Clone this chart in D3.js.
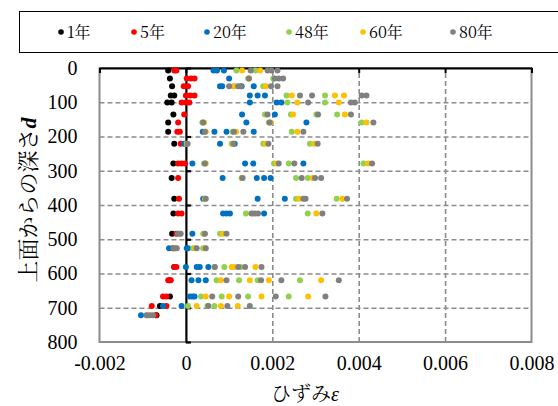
<!DOCTYPE html>
<html>
<head>
<meta charset="utf-8">
<script src="https://cdn.jsdelivr.net/npm/d3@7"></script>
<style>
  body { margin: 0; background: #fff; }
</style>
</head>
<body>
<svg id="chart" width="558" height="406"></svg>
<script>
// depth rows (mm from top surface) and strain readings (x10^-3) per row
const depthRows = [7, 31, 53, 80, 101, 136, 159, 186, 221, 279, 321, 382, 425, 484, 526, 581, 620, 667, 695, 722];

const yr1 = [[-0.41], [-0.37], [-0.32], [-0.35, -0.27], [-0.43, -0.33], [-0.29], [-0.41], [-0.41], [-0.27], [-0.29],
  [-0.33], [-0.27], [-0.29], [-0.32], [-0.30], [-0.27], [-0.38], [-0.37], [-0.60], [-0.68]];
const yr5 = [[-0.27, -0.22], [0.02, 0.12, 0.2], [-0.05, 0.05], [0.0, 0.1, 0.2], [-0.1, 0.0, 0.08], [-0.04], [-0.18],
  [-0.2, -0.14], [-0.12], [-0.18, -0.1, -0.02], [-0.18], [-0.16], [-0.18, -0.10], [-0.22], [-0.25], [-0.27, -0.22],
  [-0.41, -0.35], [-0.53, -0.45], [-0.79, -0.45], [-0.70]];
const yr20 = [[0.64, 0.72, 0.88], [1.00], [0.79, 0.84, 1.29, 1.57], [1.48, 1.66, 1.83], [1.48, 2.10, 2.21], [1.30, 2.06],
  [1.40, 2.79], [0.39, 0.66, 0.94, 1.57], [-0.04, 0.79, 1.13], [0.15, 1.37, 1.56, 2.72], [0.85, 1.64, 1.81, 1.96],
  [0.40, 1.66, 2.29], [0.86, 0.94, 1.02, 1.81], [0.15], [-0.39, 0.02, 0.05], [0.0, 0.25, 0.32, 0.52], [0.13, 0.29, 0.46],
  [0.09, 0.15, 0.2], [-0.53, -0.10], [-1.04]];
const yr48 = [[1.17, 1.61], [1.44, 2.02], [1.10, 1.79], [2.33, 3.22], [2.35, 3.22], [1.83, 2.43, 3.02, 3.50],
  [0.38, 1.92, 4.07], [1.08, 2.45], [0.02, 1.06, 1.79, 2.87], [0.42, 2.04, 2.38, 4.11], [1.29, 2.55, 2.82],
  [0.44, 2.55, 3.49], [1.39, 2.82], [-0.15, 0.40, 0.79], [-0.25, 0.17, 0.40], [0.66, 0.89, 1.27],
  [0.71, 1.23, 1.66, 2.64], [0.35, 0.83, 1.44, 2.38], [0.05, 0.50, 0.66], [-0.90]];
const yr60 = [[1.30, 1.72], [1.46], [1.13, 1.85], [2.45, 3.45, 3.66], [2.58, 3.54], [2.48, 3.68], [0.42, 1.96, 4.18],
  [0.46, 1.16, 2.58], [0.03, 1.08, 1.85, 2.97], [0.46, 2.10, 4.22], [1.31, 2.93], [0.45, 2.62, 3.62], [1.55, 3.02],
  [-0.16, 0.43, 0.86], [-0.27, 0.22, 0.44], [1.06, 1.12, 1.61], [0.81, 1.48, 1.92, 3.13], [0.46, 1.00, 1.75, 2.83],
  [0.25, 0.81, 1.20], [-0.88]];
const yr80 = [[1.50, 1.89, 1.98, 2.12], [1.46, 2.06, 2.15, 2.25], [1.00, 1.21, 1.27, 1.97, 2.12], [2.64, 2.92, 4.07, 4.18],
  [2.83, 3.82, 3.91], [1.89, 3.06, 3.82], [0.40, 1.94, 4.34], [0.44, 1.11, 1.33, 2.72], [0.04, 1.10, 1.91, 3.05],
  [0.44, 2.15, 2.51, 4.31], [1.31, 2.68, 2.99, 3.13], [0.46, 2.72, 2.77, 3.73], [1.52, 1.60, 1.67, 3.16],
  [-0.19, -0.12, 0.44, 0.94], [-0.29, -0.21, 0.25, 0.46], [0.67, 1.21, 1.37, 1.75], [0.94, 1.74, 2.21, 3.54],
  [0.61, 1.21, 2.08, 3.23], [0.52, 0.96, 1.48], [-0.91, -0.83, -0.76]];

const seriesNames = ["1年", "5年", "20年", "48年", "60年", "80年"];
const seriesData = [yr1, yr5, yr20, yr48, yr60, yr80];
const colors = ["#000000", "#ff0000", "#0070c0", "#92d050", "#ffc000", "#808080"];

const xTicks = [-2, 0, 2, 4, 6, 8];
const xTickLabels = ["-0.002", "0", "0.002", "0.004", "0.006", "0.008"];
const yTicks = [0, 100, 200, 300, 400, 500, 600, 700, 800];

const serif = "'Liberation Serif', 'Times New Roman', serif";
const mincho = "'Noto Serif CJK JP', 'Liberation Serif', serif";

const svg = d3.select("#chart");
const pLeft = 99.5, pRight = 531.5, pTop = 68, pBottom = 342;

const x = d3.scaleLinear().domain([-2, 8]).range([pLeft, pRight]);
const y = d3.scaleLinear().domain([0, 800]).range([pTop, pBottom]);

// gridlines
svg.append("g")
  .attr("transform", `translate(${pLeft},0)`)
  .call(d3.axisLeft(y).tickValues(yTicks.slice(1, -1)).tickSize(-(pRight - pLeft)).tickFormat(""))
  .call(g => g.select(".domain").remove())
  .selectAll("line").attr("stroke", "#8c8c8c").attr("stroke-width", 1.6).attr("stroke-dasharray", "5,3");

svg.append("g")
  .attr("transform", `translate(0,${pBottom})`)
  .call(d3.axisTop(x).tickValues([2, 4, 6]).tickSize(pBottom - pTop).tickFormat(""))
  .call(g => g.select(".domain").remove())
  .selectAll("line").attr("stroke", "#8c8c8c").attr("stroke-width", 1.6).attr("stroke-dasharray", "5,3");

// plot border
svg.append("rect")
  .attr("x", pLeft).attr("y", pTop)
  .attr("width", pRight - pLeft).attr("height", pBottom - pTop)
  .attr("fill", "none").attr("stroke", "#8c8c8c").attr("stroke-width", 2);

// x axis line at depth 0 (top)
svg.append("g")
  .attr("transform", `translate(0,${pTop})`)
  .call(d3.axisBottom(x).tickValues(xTicks).tickSize(5).tickSizeOuter(0).tickFormat(""))
  .call(g => g.selectAll("path, line").attr("stroke", "#000").attr("stroke-width", 2));

// y axis line at strain 0
svg.append("g")
  .attr("transform", `translate(${x(0)},0)`)
  .call(d3.axisRight(y).tickValues(yTicks).tickSize(5).tickSizeOuter(0).tickFormat(""))
  .call(g => g.selectAll("path, line").attr("stroke", "#000").attr("stroke-width", 2.2));

// tick labels
svg.append("g")
  .attr("transform", `translate(${pLeft},0)`)
  .call(d3.axisLeft(y).tickValues(yTicks).tickSize(0).tickPadding(22))
  .attr("font-family", serif).attr("font-size", 20)
  .call(g => g.select(".domain").remove())
  .selectAll("text").attr("fill", "#000");

svg.append("g")
  .attr("transform", `translate(0,${pBottom})`)
  .call(d3.axisBottom(x).tickValues(xTicks).tickSize(0).tickPadding(14).tickFormat((d, i) => xTickLabels[i]))
  .attr("font-family", serif).attr("font-size", 20)
  .call(g => g.select(".domain").remove())
  .selectAll("text").attr("fill", "#000");

// points
seriesData.forEach((rows, si) => {
  const pts = [];
  rows.forEach((vals, ri) => vals.forEach(v => pts.push([v, depthRows[ri]])));
  svg.append("g").selectAll("circle")
    .data(pts)
    .enter()
    .append("circle")
    .attr("cx", d => x(d[0]))
    .attr("cy", d => y(d[1]))
    .attr("r", 3)
    .attr("fill", colors[si]);
});

// axis titles
const xt = svg.append("text")
  .attr("x", 305).attr("y", 401)
  .attr("text-anchor", "middle").attr("font-size", 20).attr("font-family", mincho);
xt.append("tspan").text("ひずみ");
xt.append("tspan").attr("font-family", serif).attr("font-style", "italic").text("ε");

const yt = svg.append("text")
  .attr("transform", "translate(36,200) rotate(-90)")
  .attr("text-anchor", "middle").attr("font-size", 22).attr("font-family", mincho);
yt.append("tspan").text("上面からの深さ");
yt.append("tspan").attr("font-family", serif).attr("font-style", "italic")
  .attr("font-weight", "bold").text("d");

// legend
svg.append("rect")
  .attr("x", 19.5).attr("y", 11.5).attr("width", 545).attr("height", 41)
  .attr("fill", "#fff").attr("stroke", "#000").attr("stroke-width", 1);

const legendX = [61, 134, 207, 289, 363, 453];
const leg = svg.append("g").selectAll("g")
  .data(seriesNames)
  .enter()
  .append("g")
  .attr("transform", (d, i) => `translate(${legendX[i]},32)`);
leg.append("circle").attr("r", 2.8).attr("fill", (d, i) => colors[i]);
leg.append("text").attr("x", 6).attr("dy", "0.35em").attr("font-size", 16)
  .attr("font-family", mincho).text(d => d);
</script>
</body>
</html>
